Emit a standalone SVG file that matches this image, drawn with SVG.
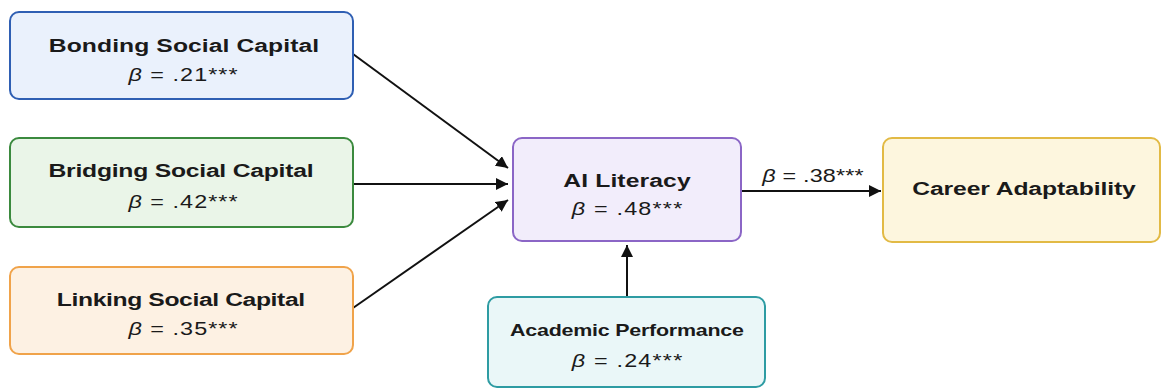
<svg xmlns="http://www.w3.org/2000/svg" width="1162" height="389" viewBox="0 0 1162 389">
<style>
  .box { stroke-width: 2; }
  .title { font-family: "Liberation Sans", Arial, sans-serif; font-weight: bold; font-size: 19px; fill: #1a1a1a; text-anchor: middle; }
  .beta { font-family: "Liberation Sans", Arial, sans-serif; font-size: 18px; fill: #1a1a1a; text-anchor: middle; }
  .conn { stroke: #111; stroke-width: 2; fill: none; marker-end: url(#arr); }
</style>
<defs>
  <marker id="arr" viewBox="0 0 10 10" refX="10" refY="5" markerWidth="6" markerHeight="6" markerUnits="strokeWidth" orient="auto">
    <path d="M0,0 L10,5 L0,10 z" fill="#111"/>
  </marker>
</defs>
<rect width="1162" height="389" fill="#ffffff"/>
<g id="connectors">
  <line class="conn" x1="353" y1="54" x2="508" y2="168"/>
  <line class="conn" x1="353" y1="184" x2="508" y2="184"/>
  <line class="conn" x1="353" y1="308" x2="508" y2="200"/>
  <line class="conn" x1="741" y1="191" x2="881" y2="191"/>
  <line class="conn" x1="627" y1="297" x2="627" y2="245"/>
  <text class="beta" transform="translate(813,182) scale(1.3,1)" textLength="78" lengthAdjust="spacing"><tspan font-style="italic">β</tspan> = .38***</text>
</g>
<g id="bonding">
  <rect class="box" x="10" y="12" width="343" height="87" rx="9" fill="#eaf1fc" stroke="#2f5fb3"/>
  <text class="title" transform="translate(184,52) scale(1.3,1)" textLength="208" lengthAdjust="spacing">Bonding Social Capital</text>
  <text class="beta" transform="translate(183,81) scale(1.3,1)" textLength="84" lengthAdjust="spacing"><tspan font-style="italic">β</tspan> = .21***</text>
</g>
<g id="bridging">
  <rect class="box" x="10" y="138" width="343" height="89" rx="9" fill="#eaf5e8" stroke="#3b8a3e"/>
  <text class="title" transform="translate(181,177) scale(1.3,1)" textLength="204" lengthAdjust="spacing">Bridging Social Capital</text>
  <text class="beta" transform="translate(183,208) scale(1.3,1)" textLength="84" lengthAdjust="spacing"><tspan font-style="italic">β</tspan> = .42***</text>
</g>
<g id="linking">
  <rect class="box" x="10" y="267" width="343" height="87" rx="9" fill="#fdf1e3" stroke="#f0a34a"/>
  <text class="title" transform="translate(181,306) scale(1.3,1)" textLength="191" lengthAdjust="spacing">Linking Social Capital</text>
  <text class="beta" transform="translate(183,335) scale(1.3,1)" textLength="84" lengthAdjust="spacing"><tspan font-style="italic">β</tspan> = .35***</text>
</g>
<g id="ai-literacy">
  <rect class="box" x="513" y="138" width="228" height="103" rx="9" fill="#f2edfb" stroke="#8b66c6"/>
  <text class="title" transform="translate(627,187) scale(1.3,1)" textLength="98" lengthAdjust="spacing">AI Literacy</text>
  <text class="beta" transform="translate(627,215) scale(1.3,1)" textLength="85" lengthAdjust="spacing"><tspan font-style="italic">β</tspan> = .48***</text>
</g>
<g id="career-adaptability">
  <rect class="box" x="883" y="138" width="277" height="104" rx="9" fill="#fdf6de" stroke="#e2ba45"/>
  <text class="title" transform="translate(1024,195) scale(1.3,1)" textLength="172" lengthAdjust="spacing">Career Adaptability</text>
</g>
<g id="academic-performance">
  <rect class="box" x="488" y="297" width="277" height="90" rx="9" fill="#eaf7f8" stroke="#2e9ca3"/>
  <text class="title" transform="translate(627,336) scale(1.3,1)" style="font-size:16.5px" textLength="180" lengthAdjust="spacing">Academic Performance</text>
  <text class="beta" transform="translate(627,367) scale(1.3,1)" textLength="85" lengthAdjust="spacing"><tspan font-style="italic">β</tspan> = .24***</text>
</g>
</svg>
